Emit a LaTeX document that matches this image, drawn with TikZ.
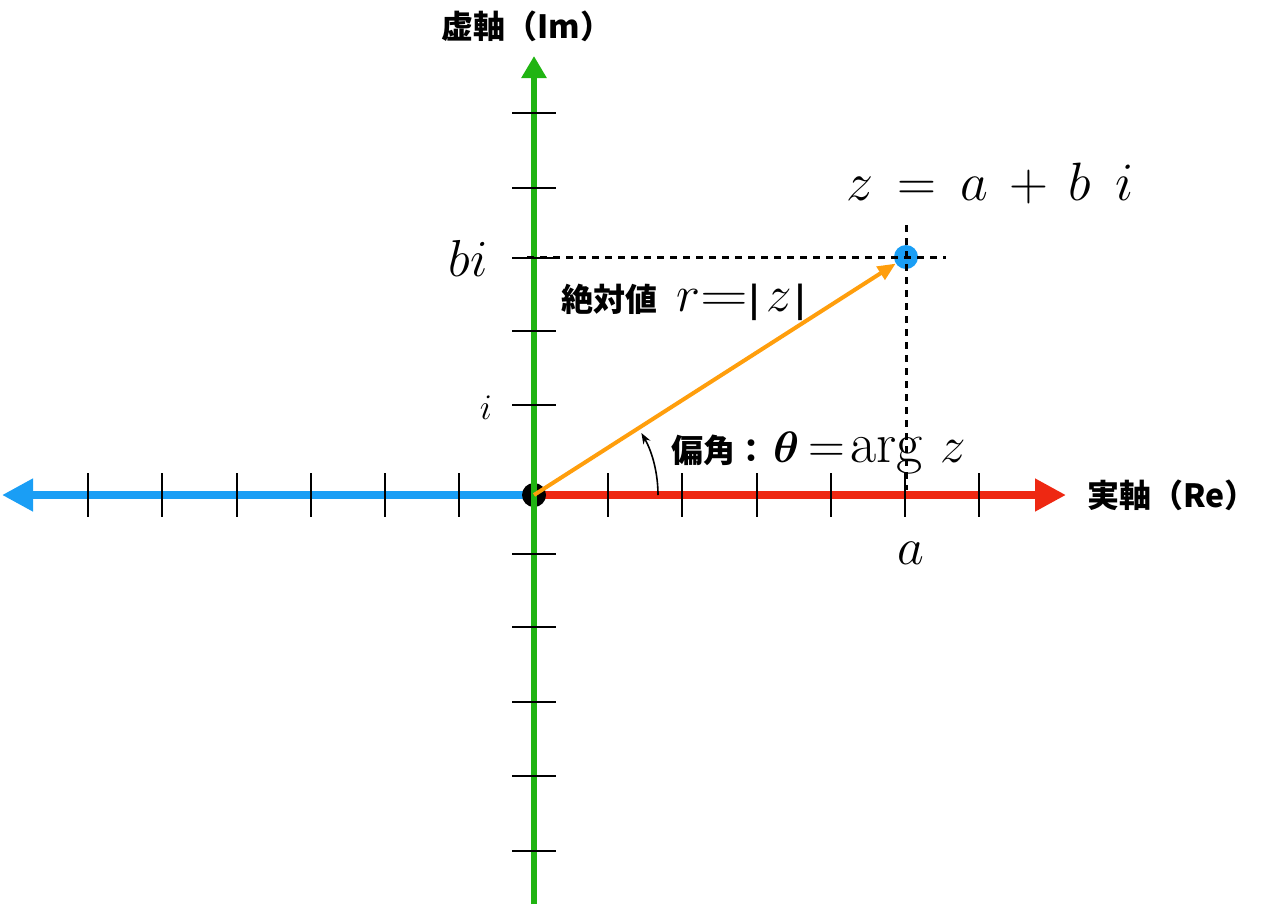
\RequirePackage{fix-cm}
\documentclass[tikz,border=0pt]{standalone}
\usepackage{bm}
\usepackage{graphicx}
\usepackage{fontspec}
\newfontfamily\cjk{Noto Sans CJK JP}
\usetikzlibrary{arrows.meta}
\definecolor{reblue}{RGB}{26,158,245}
\definecolor{rered}{RGB}{238,40,18}
\definecolor{imgreen}{RGB}{32,180,18}
\definecolor{absorange}{RGB}{255,158,12}
\newcommand{\bigmath}[1]{{\normalfont\fontsize{51}{56}\selectfont$#1$}}
\begin{document}
\begin{tikzpicture}[x=1pt,y=-1pt,
    tickmark/.style={line width=2pt},
    guide/.style={line width=3pt,dash pattern=on 7pt off 6pt},
    jplabel/.style={font=\cjk\bfseries\fontsize{32}{36}\selectfont,inner sep=0pt},
    mathlabel/.style={font=\fontsize{50}{54}\selectfont,inner sep=0pt}]
    \useasboundingbox (0,0) rectangle (1280,906);
    \coordinate (O) at (534,495);
    \coordinate (L) at (2,495);
    \coordinate (R) at (1066,495);
    \coordinate (T) at (534,56);
    \coordinate (B) at (534,904);
    \draw[reblue,line width=7.5pt,-{Triangle[length=31pt,width=31pt]}] (O) -- (L);
    \draw[rered,line width=7.5pt,-{Triangle[length=31pt,width=31pt]}] (O) -- (R);
    \foreach \x in {88,162,237,311,385,459,608,682,757,831,905,979}
        \draw[tickmark] (\x,473) -- (\x,517);
    \fill (O) circle (12pt);
    \draw[imgreen,line width=6pt,-{Triangle[length=22pt,width=24pt]}] (B) -- (T);
    \foreach \y in {113,188,258,331,405,554,627,702,776,851}
        \draw[tickmark] (512,\y) -- (556,\y);
    \node[circle,fill=reblue,minimum size=24pt,inner sep=0pt] (Z) at (906,257) {};
    \draw[absorange,line width=4pt,-{Triangle[length=18pt,width=15pt]}] (O) -- (Z);
    \draw[line width=1.6pt,-{Stealth[length=11pt,width=8pt]}] (658,495) arc[start angle=0,end angle=30,radius=124pt];
    \draw (527,26) node[jplabel] (imlabel) {虚軸（Im）};
    \draw (1087,495) node[jplabel,anchor=west] (relabel) {実軸（Re）};
    \draw (468,258) node[mathlabel,font=\fontsize{52}{56}\selectfont] (bilabel) {$bi$};
    \draw (486,408) node[mathlabel,font=\fontsize{36}{40}\selectfont] (ilabel) {$i$};
    \draw (911,553) node[mathlabel,font=\fontsize{52}{56}\selectfont] (alabel) {$a$};
    \draw (990,183) node[mathlabel,font=\fontsize{54}{58}\selectfont] (zlabel) {$z\,=\,a\,+\,b\;\,i$};
    \draw (561,302) node[jplabel,anchor=west] (abslabel) {絶対値\hspace{19pt}\bigmath{r}\scalebox{1.3}[1]{\bigmath{=}}\hspace{2pt}|\hspace{7pt}\bigmath{z}\hspace{3pt}|};
    \draw (671,453) node[jplabel,anchor=west] (arglabel) {偏角：\hspace{6pt}{\normalfont\fontsize{44}{48}\selectfont$\bm{\theta}$}\hspace{9pt}\bigmath{=}\hspace{5pt}{\normalfont\fontsize{57}{60}\selectfont arg}\hspace{18pt}\bigmath{z}};
    \draw[guide] (527,257) -- (Z.center) -- (946,257);
    \draw[guide] (906,225) -- (Z.center) -- (906,490);
\end{tikzpicture}
\end{document}
